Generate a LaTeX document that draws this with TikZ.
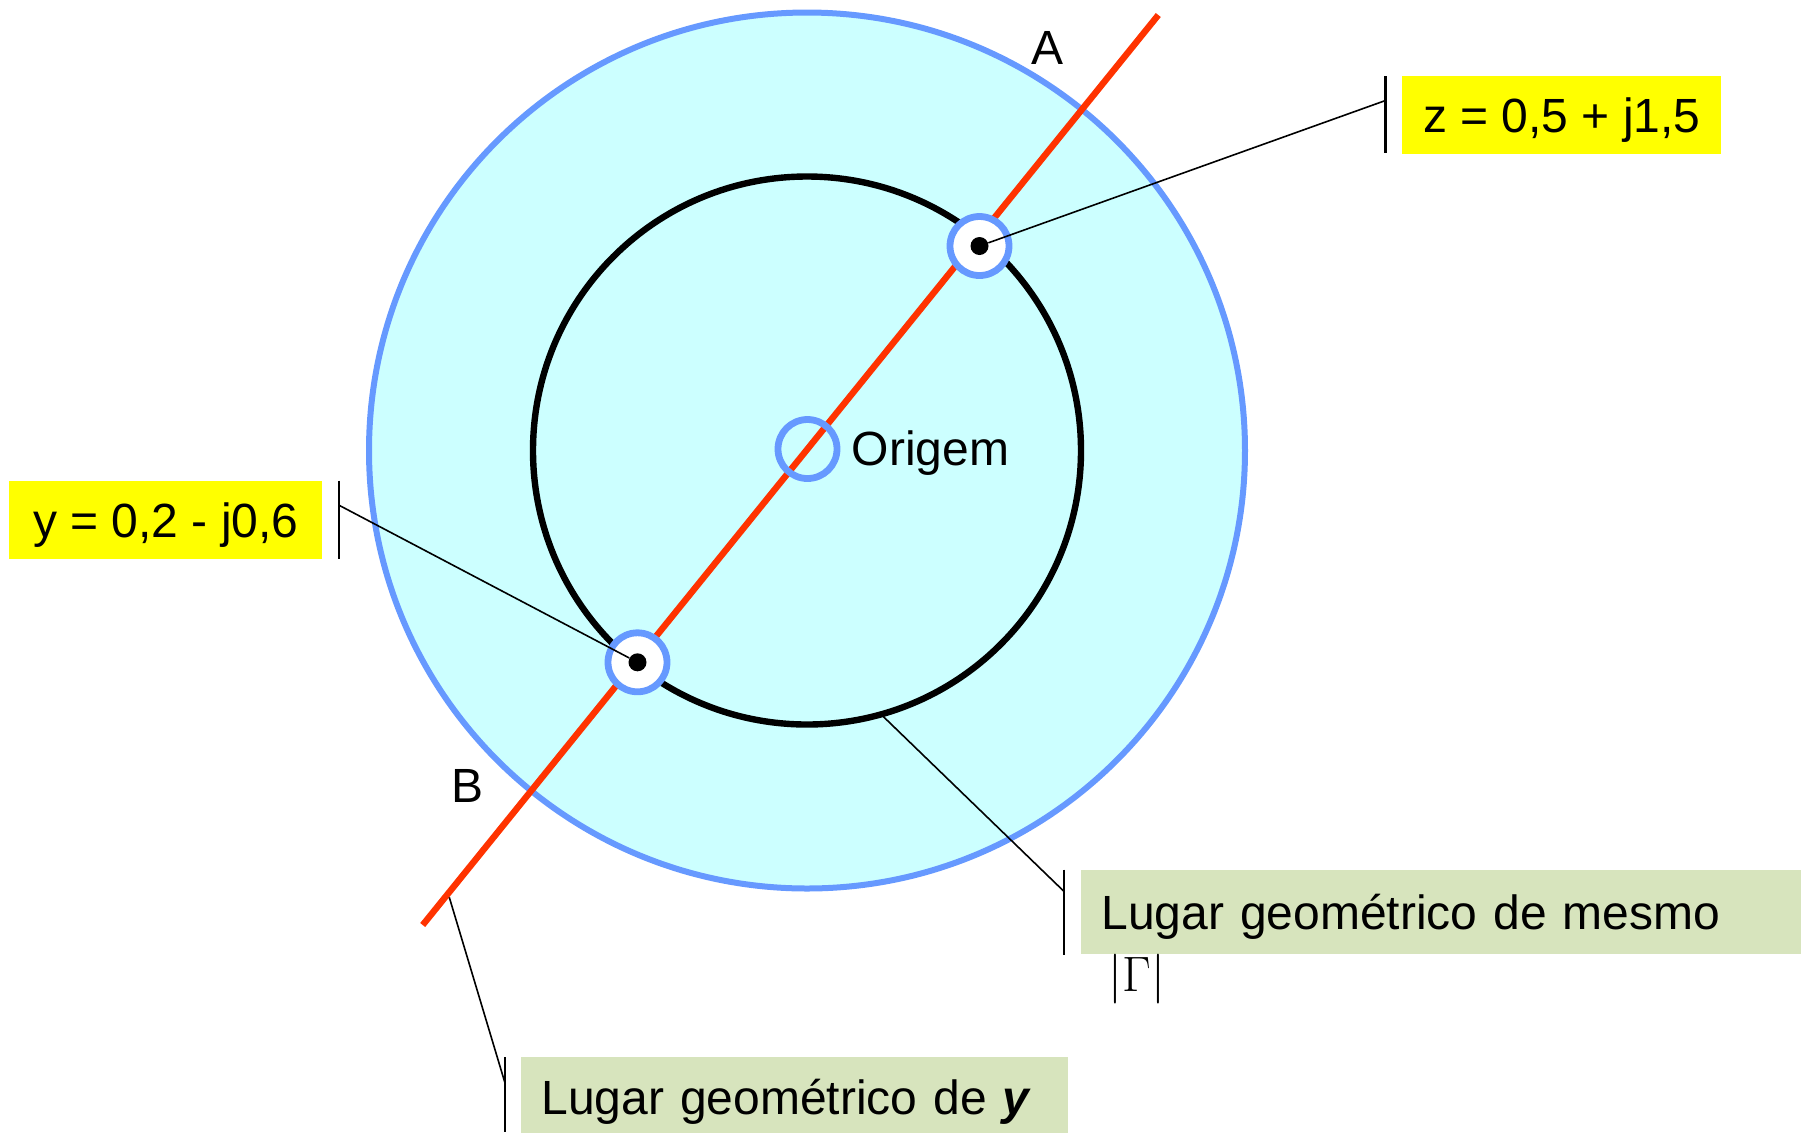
\documentclass[tikz,border=0pt]{standalone}
\usepackage{fontspec}
\setmainfont{Liberation Sans}
\newfontfamily\gammafont{Liberation Serif}
\definecolor{cyanfill}{HTML}{CCFFFF}
\definecolor{ringblue}{HTML}{6699FF}
\definecolor{linered}{HTML}{FF3300}
\definecolor{labelyellow}{HTML}{FFFF00}
\definecolor{labelgreen}{HTML}{D7E4BD}
\begin{document}
\begin{tikzpicture}[x=0.5pt,y=-0.5pt,
  every node/.style={font=\fontsize{24pt}{28pt}\selectfont, text=black},
  outerc/.style={circle, draw=ringblue, line width=3pt, fill=cyanfill, minimum size=438pt, inner sep=0pt},
  innerc/.style={circle, draw=black, line width=3.2pt, minimum size=274pt, inner sep=0pt},
  redline/.style={draw=linered, line width=3.2pt},
  ring/.style={circle, draw=ringblue, line width=3.4pt, minimum size=29.5pt, inner sep=0pt},
  pdot/.style={circle, fill=black, minimum size=9pt, inner sep=0pt},
  leader/.style={draw=black, line width=0.8pt},
  barline/.style={draw=black, line width=1.1pt},
  tfix/.style={text height=17.3pt, text depth=0pt},
  ybox/.style={tfix, fill=labelyellow, inner sep=0pt, minimum height=39pt},
  gbox/.style={tfix, fill=labelgreen, inner xsep=10pt, inner ysep=0pt, minimum height=42pt, align=left},
  lbl/.style={tfix, inner sep=0pt}
]
\useasboundingbox (0,0) rectangle (1812,1132);
\coordinate (O) at (807,450.5);
\node[outerc] (outer) at (O) {};
\node[innerc] (inner) at (O) {};
\coordinate (Lbot) at (422.7,925);
\coordinate (Ltop) at (1158.3,15);
\draw[redline] (Lbot) -- (Ltop);
\node[ring] (orig) at (807.5,449) {};
\node[ring, fill=white] (zr) at (979.5,246) {};
\node[ring, fill=white] (yr) at (637.5,662.3) {};
\node[pdot] (zd) at (zr.center) {};
\node[pdot] (yd) at (yr.center) {};
\node[lbl, anchor=west] (origtxt) at (851.5,448) {Origem};
\node[lbl] (A) at (1047,47.5) {A};
\node[lbl] (B) at (467.5,785.5) {B};
% z label
\node[ybox, minimum width=159.5pt, anchor=north west] (zbox) at (1402,76) {z = 0,5 + j1,5};
\coordinate (zbt) at (1385.5,76);
\coordinate (zbb) at (1385.5,152.5);
\coordinate (zbm) at (1385.5,100.5);
\draw[barline] (zbt) -- (zbb);
\draw[leader] (zd) -- (zbm);
% y label
\node[ybox, minimum width=156.5pt, anchor=north west] (ybox) at (9,480.7) {y = 0,2 - j0,6};
\coordinate (ybt) at (338.6,480.7);
\coordinate (ybb) at (338.6,559.3);
\coordinate (ybm) at (338.6,505);
\draw[barline] (ybt) -- (ybb);
\draw[leader] (yd) -- (ybm);
% green label 1
\node[gbox, text width=340pt, anchor=north west] (g1) at (1081,869.5) {Lugar geométrico de mesmo};
\node[inner sep=0pt, font=\gammafont\fontsize{28pt}{32pt}\selectfont] (gam) at (1137,979) {$|\Gamma|$};
\coordinate (g1t) at (1064.3,869.5);
\coordinate (g1b) at (1064.3,954.5);
\coordinate (g1m) at (1064.3,891.7);
\coordinate (icpt) at (881.7,715);
\draw[barline] (g1t) -- (g1b);
\draw[leader] (icpt) -- (g1m);
% green label 2
\node[gbox, text width=253.5pt, minimum height=40pt, anchor=north west] (g2) at (521,1057) {Lugar geométrico de \textbf{\textit{y}}};
\coordinate (g2t) at (505,1057);
\coordinate (g2b) at (505,1132);
\coordinate (g2m) at (505,1083);
\coordinate (rlpt) at (449.3,897.3);
\draw[barline] (g2t) -- (g2b);
\draw[leader] (rlpt) -- (g2m);
\end{tikzpicture}
\end{document}
